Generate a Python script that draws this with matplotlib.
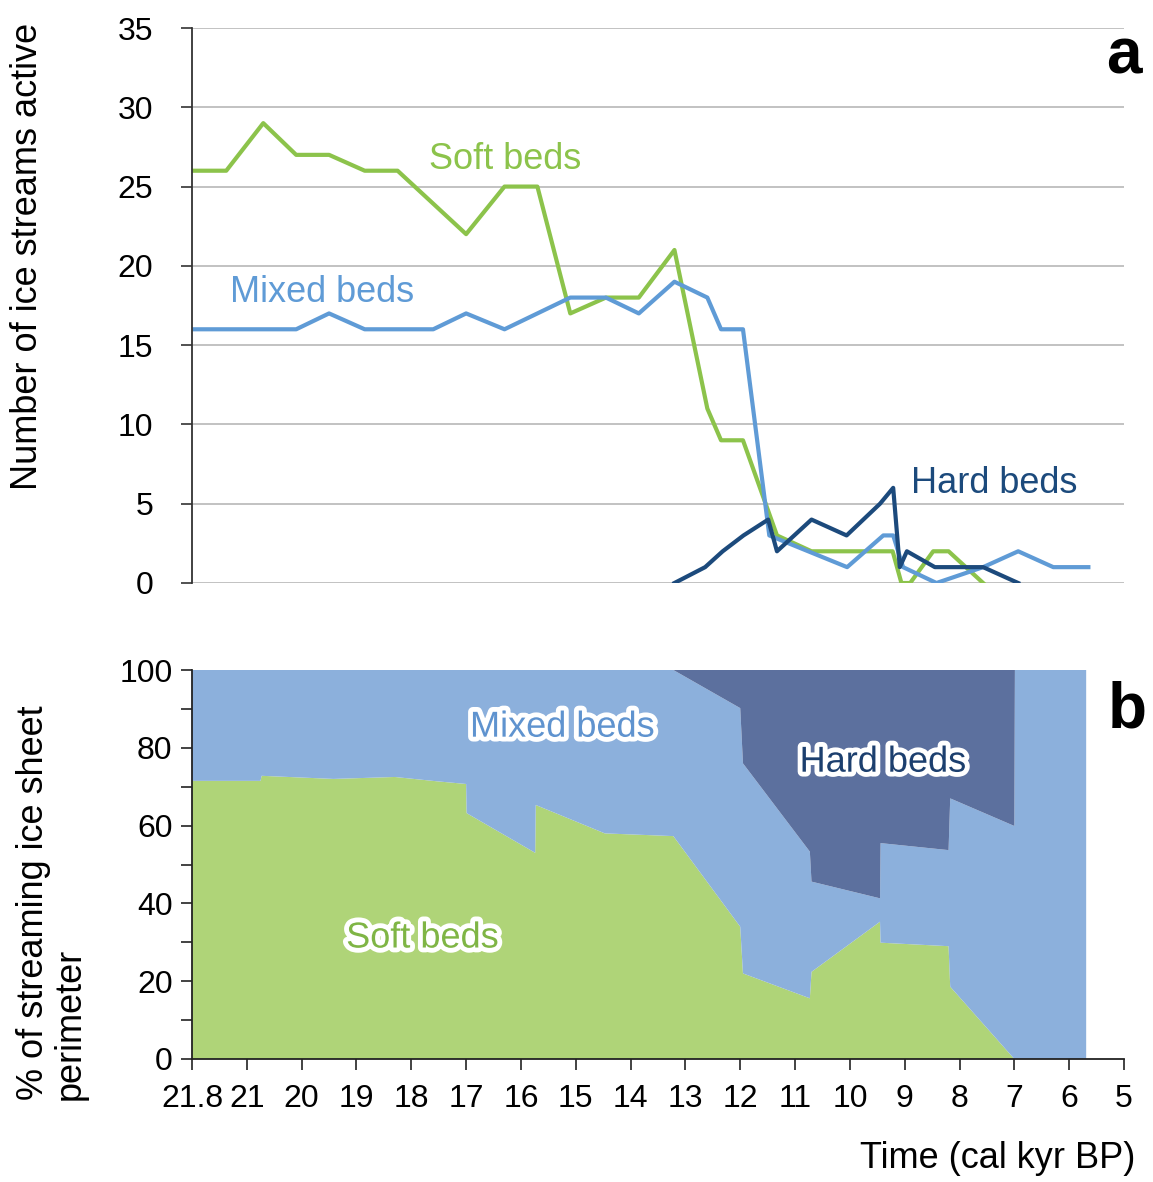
import numpy as np
import matplotlib
matplotlib.use("Agg")
import matplotlib.pyplot as plt
import matplotlib.patheffects as pe
from matplotlib.ticker import MultipleLocator

plt.rcParams['font.family'] = ['Liberation Sans', 'DejaVu Sans']

# ---- panel a: number of ice streams active (time in cal kyr BP) ----
t_soft = [21.8, 21.3, 20.7, 20.1, 19.5, 18.85, 18.25, 17.0, 16.3, 15.7, 15.1, 14.45,
          13.85, 13.2, 12.6, 12.35, 11.95, 11.33, 10.7, 9.22, 9.06, 8.9, 8.48, 8.2, 7.57]
n_soft = [26, 26, 29, 27, 27, 26, 26, 22, 25, 25, 17, 18,
          18, 21, 11, 9, 9, 3, 2, 2, 0, 0, 2, 2, 0]

t_mixed = [21.8, 20.1, 19.5, 18.85, 17.6, 17.0, 16.3, 15.1, 14.45, 13.85, 13.2, 12.6,
           12.35, 11.95, 11.47, 10.05, 9.39, 9.21, 9.03, 8.42, 7.57, 6.93, 6.29, 5.65]
n_mixed = [16, 16, 17, 16, 16, 17, 16, 18, 18, 17, 19, 18,
           16, 16, 3, 1, 3, 3, 1, 0, 1, 2, 1, 1]

t_hard = [13.2, 12.64, 12.32, 11.94, 11.49, 11.33, 10.7, 10.06, 9.45, 9.21, 9.09, 8.96,
          8.45, 7.57, 6.93]
n_hard = [0, 1, 2, 3, 4, 2, 4, 3, 5, 6, 1, 2, 1, 1, 0]

# ---- panel b: % of streaming ice sheet perimeter (stacked) ----
t_pct = [21.8, 20.75, 20.73, 19.42, 18.3, 17.54, 17.0, 16.99, 15.74, 15.73, 14.47, 13.22,
         12.0, 11.95, 10.73, 10.7, 9.45, 9.44, 8.2, 8.17, 7.0, 6.99, 5.69]
soft_pct = [71.5, 71.5, 72.8, 72.0, 72.5, 71.4, 70.7, 63.2, 53.0, 65.3, 58.0, 57.3,
            34.0, 22.0, 15.6, 22.4, 35.3, 29.9, 29.0, 18.6, 0, 0, 0]
soft_mixed_pct = [100, 100, 100, 100, 100, 100, 100, 100, 100, 100, 100, 100,
                  90.2, 76.0, 53.3, 45.6, 41.3, 55.5, 53.7, 67.0, 59.9, 100, 100]
mixed_pct = [a - b for a, b in zip(soft_mixed_pct, soft_pct)]
hard_pct = [100 - a for a in soft_mixed_pct]

tick_times = [21.8, 21, 20, 19, 18, 17, 16, 15, 14, 13, 12, 11, 10, 9, 8, 7, 6, 5]
tick_labels = ['21.8'] + [str(int(t)) for t in tick_times[1:]]


# axis is evenly spaced by tick, the first step (21.8 -> 21) is only 0.8 kyr
def fwd(t):
    t = np.asarray(t, dtype=float)
    return np.where(t <= 21, t - 22, (t - 21.8) / 0.8)


def inv(q):
    q = np.asarray(q, dtype=float)
    return np.where(q <= -1, q + 22, 21.8 + 0.8 * q)


green = '#8cc34b'
blue = '#5f9bd6'
dark = '#1c4a7c'
W, H = 1153, 1182

fig = plt.figure(figsize=(W / 100, H / 100), dpi=100)
ax1 = fig.add_axes([192 / W, 1 - 583 / H, 932 / W, 555 / H])
ax2 = fig.add_axes([192 / W, 1 - 1059 / H, 932 / W, 389 / H])

for ax in (ax1, ax2):
    ax.set_xscale('function', functions=(fwd, inv))
    ax.set_xlim(21.8, 5)

# panel a
ax1.plot(t_soft, n_soft, color=green, lw=3)
ax1.plot(t_mixed, n_mixed, color=blue, lw=3)
ax1.plot(t_hard, n_hard, color=dark, lw=3)
ax1.set_ylim(0, 35)
ax1.set_yticks(range(0, 36, 5))
ax1.yaxis.grid(True, color='#bdbdbd', lw=1.3)
ax1.set_axisbelow(True)
for s in ('top', 'right', 'bottom'):
    ax1.spines[s].set_visible(False)
ax1.spines['left'].set_color('#333333')
ax1.spines['left'].set_linewidth(1.3)
ax1.tick_params(axis='x', bottom=False, labelbottom=False, which='both')
ax1.tick_params(axis='y', labelsize=23, length=8, width=1.2, color='#333333', pad=20)

ax1.text(16.29, 26.7, 'Soft beds', color=green, fontsize=26, ha='center', va='center')
ax1.text(19.63, 18.35, 'Mixed beds', color=blue, fontsize=26, ha='center', va='center')
ax1.text(7.37, 6.3, 'Hard beds', color=dark, fontsize=26, ha='center', va='center')

# panel b
ax2.stackplot(t_pct, soft_pct, mixed_pct, hard_pct,
              colors=['#afd478', '#8cb0dc', '#5c709e'], lw=0)
ax2.set_ylim(0, 100)
ax2.set_yticks(range(0, 101, 20))
ax2.yaxis.set_minor_locator(MultipleLocator(10))
ax2.set_xticks(tick_times)
ax2.set_xticklabels(tick_labels)
ax2.xaxis.set_minor_locator(plt.NullLocator())
for s in ('top', 'right'):
    ax2.spines[s].set_visible(False)
for s in ('left', 'bottom'):
    ax2.spines[s].set_color('#222222')
    ax2.spines[s].set_linewidth(1.3)
ax2.tick_params(axis='both', which='both', length=8, width=1.2, color='#222222')
ax2.tick_params(axis='y', labelsize=23, pad=6)
ax2.tick_params(axis='x', labelsize=23, pad=10)

halo = [pe.withStroke(linewidth=7, foreground='white')]
ax2.text(15.25, 85.3, 'Mixed beds', color='#5f93cf', fontsize=26,
         ha='center', va='center', path_effects=halo)
ax2.text(17.8, 31.1, 'Soft beds', color='#7fb545', fontsize=26,
         ha='center', va='center', path_effects=halo)
ax2.text(9.4, 76.3, 'Hard beds', color='#1c3f6e', fontsize=26,
         ha='center', va='center', path_effects=halo)

# labels
fig.text(1124 / W, 1 - 57 / H, 'a', fontsize=46, fontweight='bold', ha='center', va='center')
fig.text(1127 / W, 1 - 710 / H, 'b', fontsize=46, fontweight='bold', ha='center', va='center')
fig.text(28 / W, 1 - 256 / H, 'Number of ice streams active', rotation=90,
         fontsize=26, ha='center', va='center')
fig.text(52 / W, 1 - 1100 / H, '% of streaming ice sheet\nperimeter', rotation=90,
         fontsize=26, ha='center', va='bottom', multialignment='left', linespacing=1.05)
fig.text(1135 / W, 1 - 1158 / H, 'Time (cal kyr BP)', fontsize=26, ha='right', va='center')

fig.savefig('out.png', dpi=100)
